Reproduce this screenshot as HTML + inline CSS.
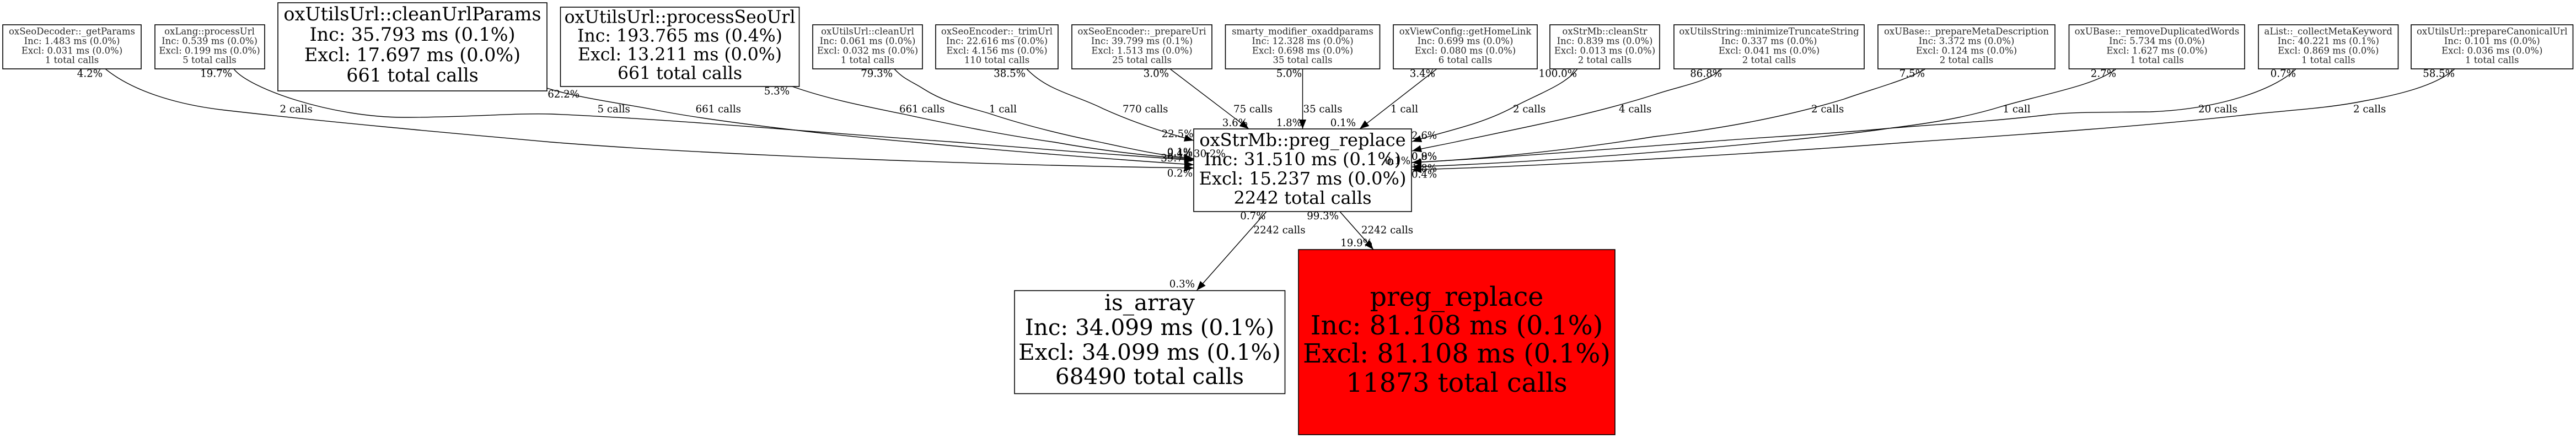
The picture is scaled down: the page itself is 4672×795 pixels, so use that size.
<!DOCTYPE html>
<html>
<head>
<meta charset="utf-8">
<title>Call graph</title>
<style>
html,body{margin:0;padding:0;background:#fff;}
svg{display:block;}
text{font-family:"DejaVu Serif","Liberation Serif",serif;fill:#000;text-anchor:middle;}
.n{font-size:16.5px;fill:#2a2a2a;}
.l{font-size:18.2px;text-anchor:start;}
.e{font-size:18.2px;text-anchor:end;}
.s{font-size:18.2px;text-anchor:start;}
rect{stroke:#000;stroke-width:1.6;fill:#fff;}
path.c{fill:none;stroke:#000;stroke-width:1.4;marker-end:url(#a);}
</style>
</head>
<body>
<svg xmlns="http://www.w3.org/2000/svg" width="4672" height="795" viewBox="0 0 4672 795">
<defs>
<marker id="a" markerUnits="userSpaceOnUse" markerWidth="18" markerHeight="14" refX="17" refY="6.5" orient="auto">
<path d="M0 0L17 6.5L0 13z" fill="#000"/>
</marker>
</defs>
<rect width="4672" height="795" style="fill:#fff;stroke:none"/>

<!-- edges -->
<path class="c" d="M191 125C240 165 320 190 408 200C600 222 800 240 1000 258C1300 282 1800 300 2165 305"/>
<path class="c" d="M424 125C450 160 600 213 733 213C850 213 930 205 1000 207C1200 215 1478 240 1733 258C1850 268 2050 283 2165 291"/>
<path class="c" d="M992 160C1050 178 1130 188 1191 200C1280 218 1500 245 1657 258C1800 272 2000 288 2165 299"/>
<path class="c" d="M1437 157C1505 181 1575 194 1638 207C1730 227 1820 245 1912 258C1990 272 2080 283 2165 289"/>
<path class="c" d="M1622 125C1640 145 1655 148 1676 162C1714 186 1750 193 1791 205C1860 228 1930 245 1995 258C2060 272 2110 283 2165 288"/>
<path class="c" d="M1862 125C1900 165 1950 172 2000 197C2055 222 2110 240 2165 255"/>
<path class="c" d="M2122 125L2265 234"/>
<path class="c" d="M2362.500 125L2362.500 234"/>
<path class="c" d="M2606 125L2466 234"/>
<path class="c" d="M2861 125C2838 155 2790 170 2740 197C2680 228 2620 238 2561 257"/>
<path class="c" d="M3123 125C3095 150 3050 155 3000 172C2880 210 2760 232 2638 258C2610 264 2585 268 2561 274"/>
<path class="c" d="M3492 125C3460 145 3400 160 3344 180C3230 215 3110 235 3000 248C2850 272 2700 288 2561 295"/>
<path class="c" d="M3838 125C3800 155 3710 170 3631 193C3560 215 3490 225 3425 233C3300 252 2900 290 2561 303"/>
<path class="c" d="M4164 125C4130 160 4030 198 3900 203C3820 204 3760 203 3717 208C3600 222 3500 226 3402 235C3290 245 3180 250 3086 258C2900 272 2700 288 2561 295"/>
<path class="c" d="M4452 125C4420 155 4350 172 4289 183C4220 197 4150 200 4078 208C3900 228 3700 242 3465 258C3200 278 2800 302 2561 308"/>
<path class="c" d="M2297 384L2170.500 527"/>
<path class="c" d="M2430 384L2491 453"/>

<!-- small nodes -->
<rect x="5" y="45" width="251" height="80"/>
<text class="n" x="130.500" y="62.700">oxSeoDecoder::_getParams</text>
<text class="n" x="130.500" y="80">Inc: 1.483 ms (0.0%)</text>
<text class="n" x="130.500" y="97.300">Excl: 0.031 ms (0.0%)</text>
<text class="n" x="130.500" y="114.600">1 total calls</text>

<rect x="281" y="45" width="199" height="80"/>
<text class="n" x="380" y="62.700">oxLang::processUrl</text>
<text class="n" x="380" y="80">Inc: 0.539 ms (0.0%)</text>
<text class="n" x="380" y="97.300">Excl: 0.199 ms (0.0%)</text>
<text class="n" x="380" y="114.600">5 total calls</text>

<rect x="1474" y="45" width="199" height="80"/>
<text class="n" x="1573.500" y="62.700">oxUtilsUrl::cleanUrl</text>
<text class="n" x="1573.500" y="80">Inc: 0.061 ms (0.0%)</text>
<text class="n" x="1573.500" y="97.300">Excl: 0.032 ms (0.0%)</text>
<text class="n" x="1573.500" y="114.600">1 total calls</text>

<rect x="1697" y="45" width="222" height="80"/>
<text class="n" x="1808" y="62.700">oxSeoEncoder::_trimUrl</text>
<text class="n" x="1808" y="80">Inc: 22.616 ms (0.0%)</text>
<text class="n" x="1808" y="97.300">Excl: 4.156 ms (0.0%)</text>
<text class="n" x="1808" y="114.600">110 total calls</text>

<rect x="1944" y="45" width="254" height="80"/>
<text class="n" x="2071" y="62.700">oxSeoEncoder::_prepareUri</text>
<text class="n" x="2071" y="80">Inc: 39.799 ms (0.1%)</text>
<text class="n" x="2071" y="97.300">Excl: 1.513 ms (0.0%)</text>
<text class="n" x="2071" y="114.600">25 total calls</text>

<rect x="2222.500" y="45" width="280" height="80"/>
<text class="n" x="2362.500" y="62.700">smarty_modifier_oxaddparams</text>
<text class="n" x="2362.500" y="80">Inc: 12.328 ms (0.0%)</text>
<text class="n" x="2362.500" y="97.300">Excl: 0.698 ms (0.0%)</text>
<text class="n" x="2362.500" y="114.600">35 total calls</text>

<rect x="2527" y="45" width="261" height="80"/>
<text class="n" x="2657.500" y="62.700">oxViewConfig::getHomeLink</text>
<text class="n" x="2657.500" y="80">Inc: 0.699 ms (0.0%)</text>
<text class="n" x="2657.500" y="97.300">Excl: 0.080 ms (0.0%)</text>
<text class="n" x="2657.500" y="114.600">6 total calls</text>

<rect x="2811" y="45" width="199" height="80"/>
<text class="n" x="2910.500" y="62.700">oxStrMb::cleanStr</text>
<text class="n" x="2910.500" y="80">Inc: 0.839 ms (0.0%)</text>
<text class="n" x="2910.500" y="97.300">Excl: 0.013 ms (0.0%)</text>
<text class="n" x="2910.500" y="114.600">2 total calls</text>

<rect x="3036" y="45" width="345" height="80"/>
<text class="n" x="3208.500" y="62.700">oxUtilsString::minimizeTruncateString</text>
<text class="n" x="3208.500" y="80">Inc: 0.337 ms (0.0%)</text>
<text class="n" x="3208.500" y="97.300">Excl: 0.041 ms (0.0%)</text>
<text class="n" x="3208.500" y="114.600">2 total calls</text>

<rect x="3406" y="45" width="321" height="80"/>
<text class="n" x="3566.500" y="62.700">oxUBase::_prepareMetaDescription</text>
<text class="n" x="3566.500" y="80">Inc: 3.372 ms (0.0%)</text>
<text class="n" x="3566.500" y="97.300">Excl: 0.124 ms (0.0%)</text>
<text class="n" x="3566.500" y="114.600">2 total calls</text>

<rect x="3752.500" y="45" width="318.500" height="80"/>
<text class="n" x="3912" y="62.700">oxUBase::_removeDuplicatedWords</text>
<text class="n" x="3912" y="80">Inc: 5.734 ms (0.0%)</text>
<text class="n" x="3912" y="97.300">Excl: 1.627 ms (0.0%)</text>
<text class="n" x="3912" y="114.600">1 total calls</text>

<rect x="4096" y="45" width="253.500" height="80"/>
<text class="n" x="4222.750" y="62.700">aList::_collectMetaKeyword</text>
<text class="n" x="4222.750" y="80">Inc: 40.221 ms (0.1%)</text>
<text class="n" x="4222.750" y="97.300">Excl: 0.869 ms (0.0%)</text>
<text class="n" x="4222.750" y="114.600">1 total calls</text>

<rect x="4373" y="45" width="293.500" height="80"/>
<text class="n" x="4519.750" y="62.700">oxUtilsUrl::prepareCanonicalUrl</text>
<text class="n" x="4519.750" y="80">Inc: 0.101 ms (0.0%)</text>
<text class="n" x="4519.750" y="97.300">Excl: 0.036 ms (0.0%)</text>
<text class="n" x="4519.750" y="114.600">1 total calls</text>

<!-- large nodes -->
<rect x="504" y="5" width="488" height="160"/>
<g style="font-size:33.400px">
<text x="748" y="37">oxUtilsUrl::cleanUrlParams</text>
<text x="748" y="74">Inc: 35.793 ms (0.1%)</text>
<text x="748" y="111">Excl: 17.697 ms (0.0%)</text>
<text x="748" y="148">661 total calls</text>
</g>

<rect x="1016.500" y="13" width="433" height="144"/>
<g style="font-size:31.500px">
<text x="1233" y="41.500">oxUtilsUrl::processSeoUrl</text>
<text x="1233" y="75.500">Inc: 193.765 ms (0.4%)</text>
<text x="1233" y="109.500">Excl: 13.211 ms (0.0%)</text>
<text x="1233" y="143.500">661 total calls</text>
</g>

<rect x="2165" y="234" width="395" height="150"/>
<g style="font-size:32px">
<text x="2362.500" y="265">oxStrMb::preg_replace</text>
<text x="2362.500" y="300">Inc: 31.510 ms (0.1%)</text>
<text x="2362.500" y="335">Excl: 15.237 ms (0.0%)</text>
<text x="2362.500" y="370">2242 total calls</text>
</g>

<rect x="1840" y="527.500" width="490.500" height="187"/>
<g style="font-size:40.500px">
<text x="2085" y="563">is_array</text>
<text x="2085" y="608">Inc: 34.099 ms (0.1%)</text>
<text x="2085" y="653">Excl: 34.099 ms (0.1%)</text>
<text x="2085" y="697">68490 total calls</text>
</g>

<rect x="2355" y="453" width="574" height="336" style="fill:#ff0000"/>
<g style="font-size:47.500px">
<text x="2642" y="555">preg_replace</text>
<text x="2642" y="607">Inc: 81.108 ms (0.1%)</text>
<text x="2642" y="658">Excl: 81.108 ms (0.1%)</text>
<text x="2642" y="711">11873 total calls</text>
</g>

<!-- call count labels -->
<text class="l" x="507.500" y="204">2 calls</text>
<text class="l" x="1083.500" y="204">5 calls</text>
<text class="l" x="1261.500" y="204">661 calls</text>
<text class="l" x="1631" y="204">661 calls</text>
<text class="l" x="1794" y="204">1 call</text>
<text class="l" x="2036" y="204">770 calls</text>
<text class="l" x="2237" y="204">75 calls</text>
<text class="l" x="2363.500" y="204">35 calls</text>
<text class="l" x="2522" y="204">1 call</text>
<text class="l" x="2744" y="204">2 calls</text>
<text class="l" x="2936" y="204">4 calls</text>
<text class="l" x="3285" y="204">2 calls</text>
<text class="l" x="3632.500" y="204">1 call</text>
<text class="l" x="3987" y="204">20 calls</text>
<text class="l" x="4268" y="204">2 calls</text>
<text class="l" x="2273.500" y="423.500">2242 calls</text>
<text class="l" x="2469" y="423.500">2242 calls</text>

<!-- source percentages -->
<text class="e" x="186" y="139.500">4.2%</text>
<text class="e" x="421" y="139.500">19.7%</text>
<text class="e" x="1051" y="177">62.2%</text>
<text class="e" x="1432" y="171.700">5.3%</text>
<text class="e" x="1619" y="139.500">79.3%</text>
<text class="e" x="1860" y="139.500">38.5%</text>
<text class="e" x="2120" y="139.500">3.0%</text>
<text class="e" x="2361" y="139.500">5.0%</text>
<text class="e" x="2603" y="139.500">3.4%</text>
<text class="e" x="2860" y="139.500">100.0%</text>
<text class="e" x="3123" y="139.500">86.8%</text>
<text class="e" x="3491" y="139.500">7.5%</text>
<text class="e" x="3838" y="139.500">2.7%</text>
<text class="e" x="4164" y="139.500">0.7%</text>
<text class="e" x="4452" y="139.500">58.5%</text>
<text class="e" x="2295.500" y="398">0.7%</text>
<text class="e" x="2428" y="398">99.3%</text>

<!-- destination percentages -->
<text class="e" x="2164.500" y="249">22.5%</text>
<text class="e" x="2263" y="229">3.6%</text>
<text class="e" x="2361" y="229">1.8%</text>
<text class="e" x="2459" y="229">0.1%</text>
<text class="e" x="2163" y="282">0.1%</text>
<text class="e" x="2163" y="284">9.4%</text>
<text class="e" x="2163" y="293">39.7%</text>
<text class="s" x="2165" y="285">30.2%</text>
<text class="e" x="2163" y="320.500">0.2%</text>
<text class="s" x="2560" y="252">2.6%</text>
<text class="s" x="2560" y="290">0.8%</text>
<text class="s" x="2560" y="290">0.9%</text>
<text class="e" x="2558" y="298">0.1%</text>
<text class="s" x="2560" y="311.500">1.8%</text>
<text class="s" x="2560" y="322.500">0.4%</text>
<text class="e" x="2489" y="447">19.9%</text>
<text class="e" x="2167" y="521.500">0.3%</text>
</svg>
</body>
</html>
